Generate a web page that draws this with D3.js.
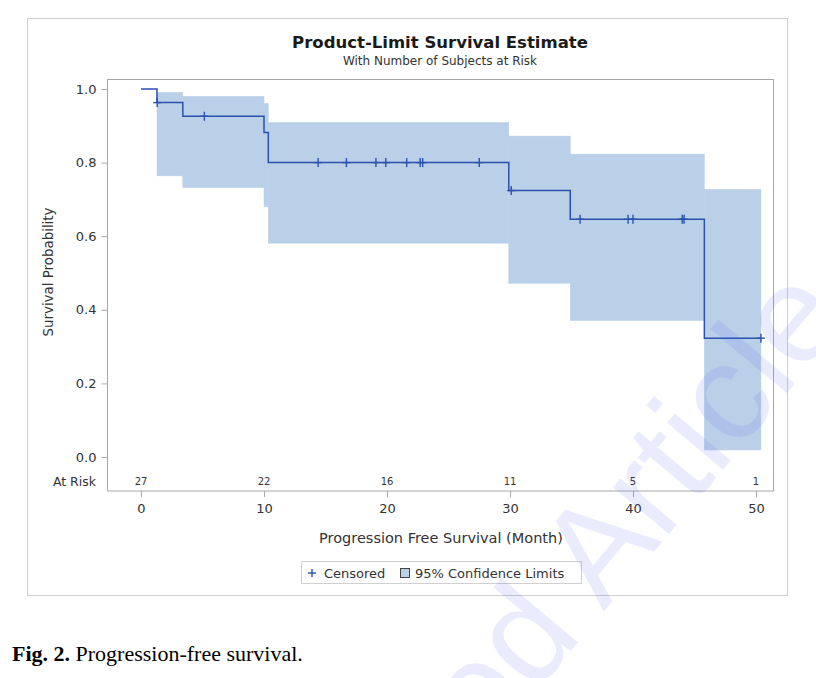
<!DOCTYPE html>
<html>
<head>
<meta charset="utf-8">
<script src="https://cdn.jsdelivr.net/npm/d3@7"></script>
<style>
  html, body { margin: 0; padding: 0; background: #fff; }
  svg { display: block; }
</style>
</head>
<body>
<svg id="chart" width="816" height="678"></svg>
<script>
// ---- data ----
const stepTimes   = [0, 1.3, 3.4, 10.0, 10.35, 29.9, 34.9, 45.8];
const survival    = [1.0, 0.963, 0.926, 0.882, 0.800, 0.724, 0.646, 0.323];
const ciLower     = [1.0, 0.764, 0.732, 0.680, 0.581, 0.472, 0.371, 0.019];
const ciUpper     = [1.0, 0.991, 0.980, 0.961, 0.909, 0.872, 0.823, 0.727];
const lastTime    = 50.4;
const censorTimes = [1.32, 5.15, 14.4, 16.7, 19.1, 19.9, 21.6, 22.7, 22.9, 27.5, 30.1, 35.7, 39.6, 40.0, 44.0, 44.15, 50.4];
const riskTimes   = [0, 10, 20, 30, 40, 50];
const riskCounts  = [27, 22, 16, 11, 5, 1];
const yTicks      = [0.0, 0.2, 0.4, 0.6, 0.8, 1.0];
const xTicks      = [0, 10, 20, 30, 40, 50];

const lineColor = "#2a52ad";
const bandColor = "#bacfe8";
const font = "'DejaVu Sans', sans-serif";

const svg = d3.select("#chart");

const x = d3.scaleLinear().domain([0, 50]).range([141, 756]);
const y = d3.scaleLinear().domain([0, 1]).range([457, 89]);

// outer border
svg.append("rect").attr("x", 27.5).attr("y", 18.5).attr("width", 760).attr("height", 577)
  .attr("fill", "#fff").attr("stroke", "#cfcfcf");

// title
svg.append("text").attr("x", 440).attr("y", 48).attr("text-anchor", "middle")
  .attr("font-family", font).attr("font-weight", "bold").attr("font-size", 16.5).attr("fill", "#1a1a1a")
  .text("Product-Limit Survival Estimate");
svg.append("text").attr("x", 440).attr("y", 65).attr("text-anchor", "middle")
  .attr("font-family", font).attr("font-size", 12).attr("fill", "#333")
  .text("With Number of Subjects at Risk");

// segments
const segs = stepTimes.map((t, i) => ({
  t0: t, t1: i < stepTimes.length - 1 ? stepTimes[i + 1] : lastTime,
  s: survival[i], lo: ciLower[i], hi: ciUpper[i]
}));

// confidence band
svg.append("g").selectAll("rect").data(segs.filter(d => d.hi > d.lo)).join("rect")
  .attr("x", d => x(d.t0)).attr("width", d => x(d.t1) - x(d.t0))
  .attr("y", d => y(d.hi)).attr("height", d => y(d.lo) - y(d.hi))
  .attr("fill", bandColor).attr("stroke", bandColor).attr("stroke-width", 0.5);

// step line
const pts = [];
segs.forEach(d => { pts.push([d.t0, d.s]); pts.push([d.t1, d.s]); });
svg.append("path").datum(pts)
  .attr("d", d3.line().x(d => x(d[0])).y(d => y(d[1])))
  .attr("fill", "none").attr("stroke", lineColor).attr("stroke-width", 1.5);

// censored markers
function survAt(t) {
  let s = 1;
  stepTimes.forEach((st, i) => { if (st <= t) s = survival[i]; });
  return s;
}
const cg = svg.append("g").attr("stroke", lineColor).attr("stroke-width", 1.4);
censorTimes.forEach(t => {
  const cx = x(t), cy = y(survAt(t));
  cg.append("line").attr("x1", cx).attr("x2", cx).attr("y1", cy - 4.5).attr("y2", cy + 4.5);
  cg.append("line").attr("x1", cx - 4).attr("x2", cx + 4).attr("y1", cy).attr("y2", cy);
});

// frame
svg.append("rect").attr("x", 107.5).attr("y", 79.5).attr("width", 666).attr("height", 411.5)
  .attr("fill", "none").attr("stroke", "#a8a8a8");

// y axis
const yAxis = svg.append("g").attr("transform", "translate(107.5,0)")
  .call(d3.axisLeft(y).tickValues(yTicks).tickFormat(d3.format(".1f")).tickSize(6).tickPadding(5));
yAxis.select(".domain").remove();
yAxis.selectAll("line").attr("stroke", "#a8a8a8");
yAxis.selectAll("text").attr("font-family", font).attr("font-size", 13).attr("fill", "#333");

// x axis
const xAxis = svg.append("g").attr("transform", "translate(0,491)")
  .call(d3.axisBottom(x).tickValues(xTicks).tickFormat(d3.format("d")).tickSize(6).tickPadding(7));
xAxis.select(".domain").remove();
xAxis.selectAll("line").attr("stroke", "#a8a8a8");
xAxis.selectAll("text").attr("font-family", font).attr("font-size", 13).attr("fill", "#333");

// at risk row
svg.append("text").attr("x", 96).attr("y", 486).attr("text-anchor", "end")
  .attr("font-family", font).attr("font-size", 12.5).attr("fill", "#333").text("At Risk");
svg.append("g").selectAll("text").data(riskTimes).join("text")
  .attr("x", d => x(d)).attr("y", 485).attr("text-anchor", "middle")
  .attr("font-family", font).attr("font-size", 10).attr("fill", "#333")
  .text((d, i) => riskCounts[i]);

// axis labels
svg.append("text").attr("x", 441).attr("y", 543).attr("text-anchor", "middle")
  .attr("font-family", font).attr("font-size", 14.5).attr("fill", "#333")
  .text("Progression Free Survival (Month)");
svg.append("text").attr("transform", "translate(53,272) rotate(-90)").attr("text-anchor", "middle")
  .attr("font-family", font).attr("font-size", 13.4).attr("fill", "#333")
  .text("Survival Probability");

// legend
const lg = svg.append("g");
lg.append("rect").attr("x", 301.5).attr("y", 561.5).attr("width", 280).attr("height", 22)
  .attr("fill", "#fff").attr("stroke", "#d0d0d0");
lg.append("line").attr("x1", 308).attr("x2", 316).attr("y1", 573).attr("y2", 573).attr("stroke", lineColor).attr("stroke-width", 1.4);
lg.append("line").attr("x1", 312).attr("x2", 312).attr("y1", 569).attr("y2", 577).attr("stroke", lineColor).attr("stroke-width", 1.4);
lg.append("text").attr("x", 324).attr("y", 577.5).attr("font-family", font).attr("font-size", 13).attr("fill", "#333").text("Censored");
lg.append("rect").attr("x", 400.5).attr("y", 568.5).attr("width", 9).attr("height", 9)
  .attr("fill", bandColor).attr("stroke", "#444");
lg.append("text").attr("x", 415).attr("y", 577.5).attr("font-family", font).attr("font-size", 13).attr("fill", "#333").text("95% Confidence Limits");

// caption
const cap = svg.append("text").attr("x", 12).attr("y", 661).attr("font-family", "'Liberation Serif', 'Times New Roman', serif").attr("font-size", 22).attr("fill", "#000");
cap.append("tspan").attr("font-weight", "bold").text("Fig. 2.");
cap.append("tspan").text(" Progression-free survival.");

// watermark
svg.append("text").attr("transform", "translate(850,318) rotate(-50)").attr("text-anchor", "end")
  .attr("font-family", "'Liberation Sans', Arial, sans-serif").attr("font-size", 138)
  .attr("fill", "rgb(90,100,235)").attr("fill-opacity", 0.13)
  .text("Accepted Article");
</script>
</body>
</html>
